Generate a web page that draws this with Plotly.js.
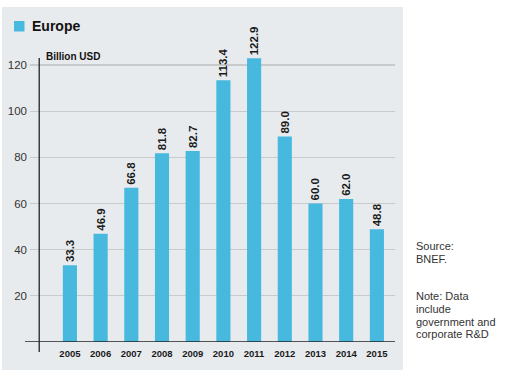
<!DOCTYPE html>
<html>
<head>
<meta charset="utf-8">
<script src="https://cdn.plot.ly/plotly-3.0.1.min.js"></script>
<style>html,body{margin:0;padding:0;background:#fff;}#chart{width:507px;height:377px;}</style>
</head>
<body>
<div id="chart"></div>
<script>
const years = ["2005","2006","2007","2008","2009","2010","2011","2012","2013","2014","2015"];
const investment = [33.3, 46.9, 66.8, 81.8, 82.7, 113.4, 122.9, 89.0, 60.0, 62.0, 48.8];
const yTicks = [20, 40, 60, 80, 100, 120];
const titleText = "Europe";
const unitText = "Billion USD";
const sourceLines = ["Source:", "BNEF."];
const noteLines = ["Note: Data", "include", "government and", "corporate R&D"];

const barColor = "#47b8de";
const xIdx = years.map((_, i) => i);

const trace = {
  type: "bar",
  x: xIdx,
  y: investment,
  width: 0.46,
  marker: {color: barColor},
  text: investment.map(v => v.toFixed(1)),
  textposition: "outside",
  textangle: -90,
  textfont: {family: "Liberation Sans, Arial, sans-serif", size: 11.5, color: "#1a1a1a", weight: "bold"},
  constraintext: "none",
  cliponaxis: false,
  hoverinfo: "none"
};

const L = 30, R = 395, T = 58, B = 342;
const W = 507, H = 377;
const px = x => (x - L) / (R - L);
const py = y => 1 - (y - T) / (B - T);

const sideAnn = [];
sourceLines.forEach((t, i) => sideAnn.push({
  text: t, xref: "paper", yref: "paper", x: px(414), y: py(246 + i * 12.8),
  xanchor: "left", yanchor: "middle", showarrow: false, font: {size: 11, color: "#333"}
}));
noteLines.forEach((t, i) => sideAnn.push({
  text: t, xref: "paper", yref: "paper", x: px(414), y: py(296 + i * 12.8),
  xanchor: "left", yanchor: "middle", showarrow: false, font: {size: 11, color: "#333"}
}));

const layout = {
  width: W, height: H,
  margin: {l: L, r: W - R, t: T, b: H - B, pad: 0},
  paper_bgcolor: "#ffffff",
  plot_bgcolor: "rgba(0,0,0,0)",
  showlegend: false,
  font: {family: "Liberation Sans, Arial, sans-serif", color: "#222"},
  xaxis: {
    range: [-1.3, 10.59],
    tickmode: "array",
    tickvals: xIdx,
    ticktext: years,
    showgrid: false,
    zeroline: false,
    showline: false,
    ticks: "",
    tickfont: {size: 9.5, color: "#1a1a1a", weight: "bold"},
    ticklabelstandoff: 4,
    fixedrange: true
  },
  yaxis: {
    range: [0, 123.03],
    tickmode: "array",
    tickvals: yTicks,
    ticktext: yTicks.map(String),
    showgrid: true,
    gridcolor: "#c8cacc",
    gridwidth: 1.3,
    zeroline: false,
    showline: false,
    ticks: "",
    tickfont: {size: 11.5, color: "#333"},
    ticklabelstandoff: 2,
    fixedrange: true
  },
  shapes: [
    {type: "rect", xref: "paper", yref: "paper", layer: "below",
     x0: px(2), x1: px(403), y0: py(370), y1: py(7),
     fillcolor: "#e8ebee", line: {width: 0}},
    {type: "rect", xref: "paper", yref: "paper", layer: "above",
     x0: px(14), x1: px(24.5), y0: py(31.5), y1: py(21),
     fillcolor: barColor, line: {width: 0}},
    {type: "line", xref: "paper", yref: "y", layer: "above",
     x0: px(25), x1: 1, y0: 0, y1: 0,
     line: {color: "#222", width: 1.3}},
    {type: "line", xref: "x", yref: "paper", layer: "above",
     x0: -1, x1: -1, y0: py(352), y1: 1,
     line: {color: "#222", width: 1.3}}
  ],
  annotations: [
    {text: "<b>" + titleText + "</b>", xref: "paper", yref: "paper",
     x: px(30), y: py(26), xanchor: "left", yanchor: "middle",
     showarrow: false, font: {size: 14, color: "#111"}},
    {text: unitText, xref: "paper", yref: "paper",
     x: px(44), y: py(57), xanchor: "left", yanchor: "middle",
     showarrow: false, font: {size: 10, color: "#111", weight: 600}}
  ].concat(sideAnn)
};

Plotly.newPlot("chart", [trace], layout, {displayModeBar: false, staticPlot: true});
</script>
</body>
</html>
